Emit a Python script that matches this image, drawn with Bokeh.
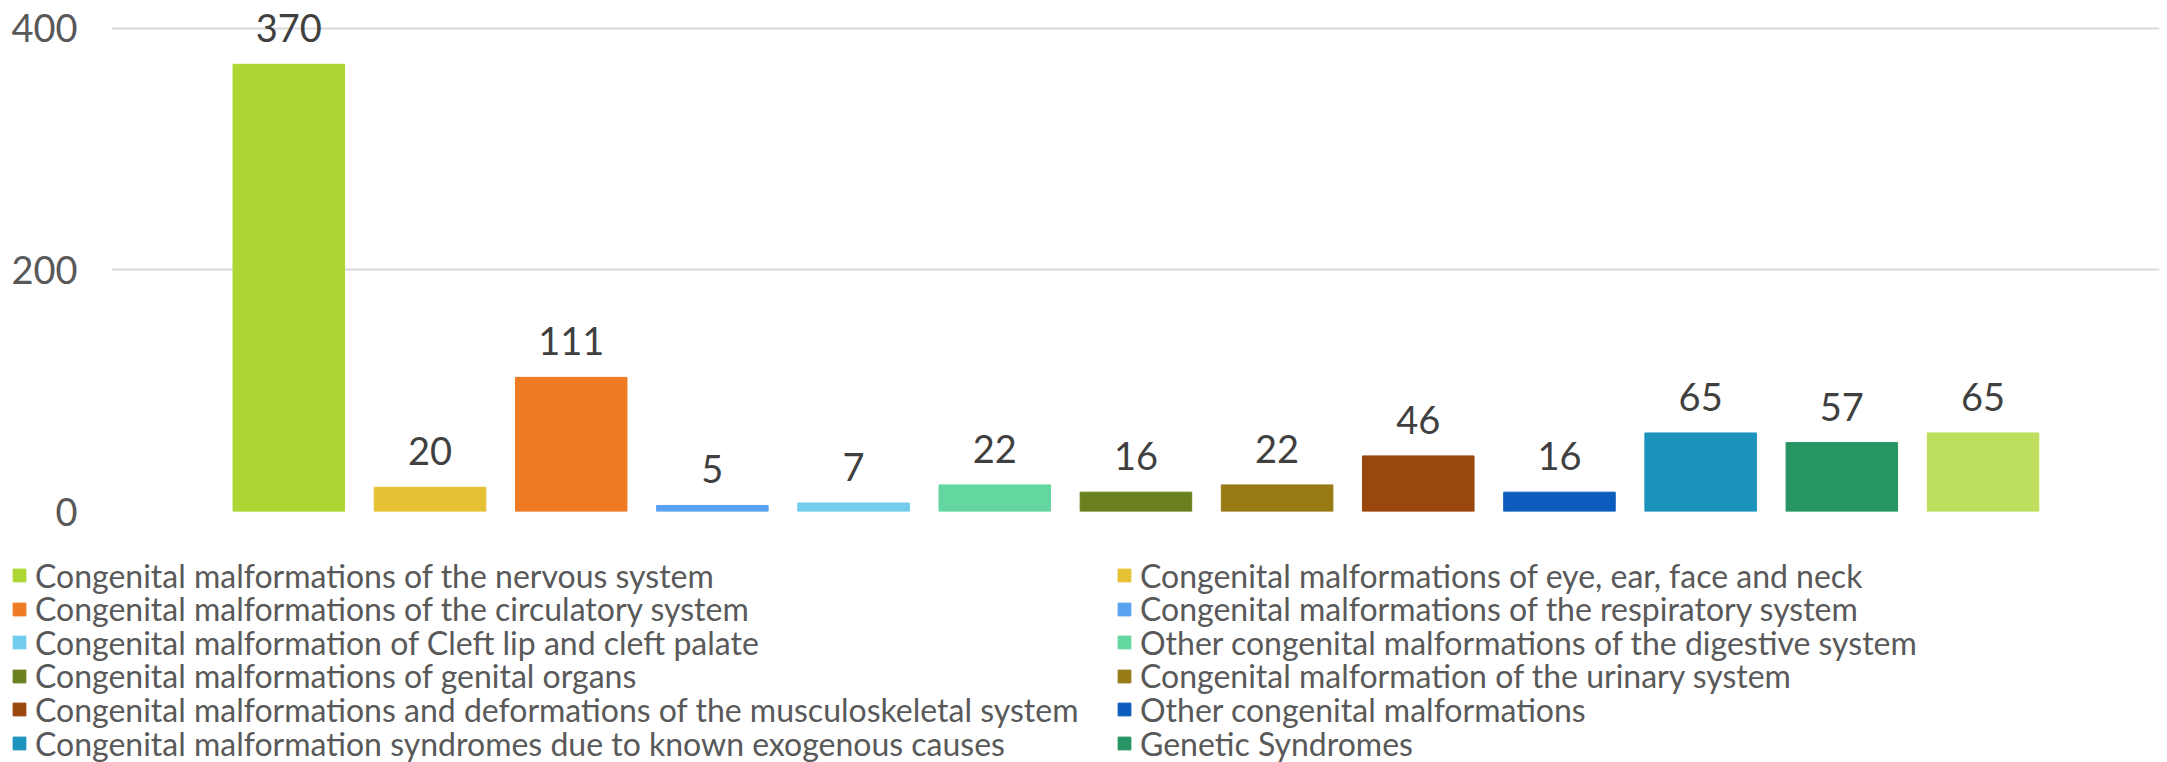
from bokeh.plotting import figure
from bokeh.layouts import column
from bokeh.models import ColumnDataSource, Range1d, Legend, LegendItem, FixedTicker
from bokeh.core.properties import value
from bokeh.embed import file_html
from bokeh.resources import INLINE

categories = [
    "Congenital malformations of the nervous system",
    "Congenital malformations of eye, ear, face and neck",
    "Congenital malformations of the circulatory system",
    "Congenital malformations of the respiratory system",
    "Congenital malformation of Cleft lip and cleft palate",
    "Other congenital malformations of the digestive system",
    "Congenital malformations of genital organs",
    "Congenital malformation of the urinary system",
    "Congenital malformations and deformations of the musculoskeletal system",
    "Other congenital malformations",
    "Congenital malformation syndromes due to known exogenous causes",
    "Genetic Syndromes",
]
values = [370, 20, 111, 5, 7, 22, 16, 22, 46, 16, 65, 57, 65]
colors = ["#ADD633", "#E6C133", "#EE7B24", "#5AA2F0", "#72CCEB", "#64D6A0",
          "#6A801E", "#977A14", "#9A470E", "#0D5DBE", "#1C93BD", "#279463", "#BEDE5E"]
y_ticks = [0, 200, 400]

FONT = "Lato"
src = ColumnDataSource(dict(
    x=list(range(len(values))),
    top=values,
    color=colors,
    label=[str(v) for v in values],
))

p = figure(width=2167, height=540, output_backend="svg", toolbar_location=None,
           x_range=Range1d(-1.256, 13.25), y_range=Range1d(0, 422.8),
           min_border_left=111, min_border_right=8, min_border_top=0,
           min_border_bottom=29)
p.frame_align = False
p.outline_line_color = None
p.xaxis.visible = False
p.xgrid.grid_line_color = None
p.ygrid.grid_line_color = "#D9D9D9"
p.ygrid.grid_line_width = 2
p.yaxis.ticker = FixedTicker(ticks=y_ticks)
p.yaxis.axis_line_color = None
p.yaxis.major_tick_line_color = None
p.yaxis.minor_tick_line_color = None
p.yaxis.major_label_standoff = 28
p.yaxis.major_label_text_font = FONT
p.yaxis.major_label_text_font_size = "38px"
p.yaxis.major_label_text_color = "#595959"

p.vbar(x="x", top="top", bottom=0, width=0.79, color="color", source=src)
p.text(x="x", y="top", text="label", source=src, text_align="center",
       text_baseline="alphabetic", y_offset=-36, text_font=value(FONT),
       text_font_size="38px", text_color="#404040")

# legend panel (below the chart)
Q_H = 222
q = figure(width=2167, height=Q_H, output_backend="svg", toolbar_location=None,
           x_range=Range1d(0, 1), y_range=Range1d(0, 1),
           min_border_left=0, min_border_right=0, min_border_top=0,
           min_border_bottom=0)
q.frame_align = False
q.outline_line_color = None
q.axis.visible = False
q.grid.grid_line_color = None
rq = q.vbar(x="x", top="top", bottom=0, width=0.79, color="color", source=src)
rq.visible = False

ITEM_H = 42
ROW_PITCH = 33.6
FIRST_CENTER = 35          # px below top of legend panel
COL_X = [11, 1116]

for i, name in enumerate(categories):
    row, col = divmod(i, 2)
    center = FIRST_CENTER + row * ROW_PITCH
    vy = Q_H - (center + ITEM_H / 2)
    lg = Legend(items=[LegendItem(label=name, renderers=[rq], index=i)],
                location=(COL_X[col], vy), orientation="vertical",
                glyph_width=16, glyph_height=16, label_standoff=8,
                label_text_font=FONT, label_text_font_size="32px",
                label_text_color="#595959", label_height=ITEM_H, spacing=0,
                padding=0, margin=0, border_line_color=None,
                background_fill_alpha=0, inactive_fill_alpha=0)
    q.add_layout(lg, "center")

layout = column(p, q, spacing=0)
open("out.html", "w").write(file_html(layout, INLINE))
